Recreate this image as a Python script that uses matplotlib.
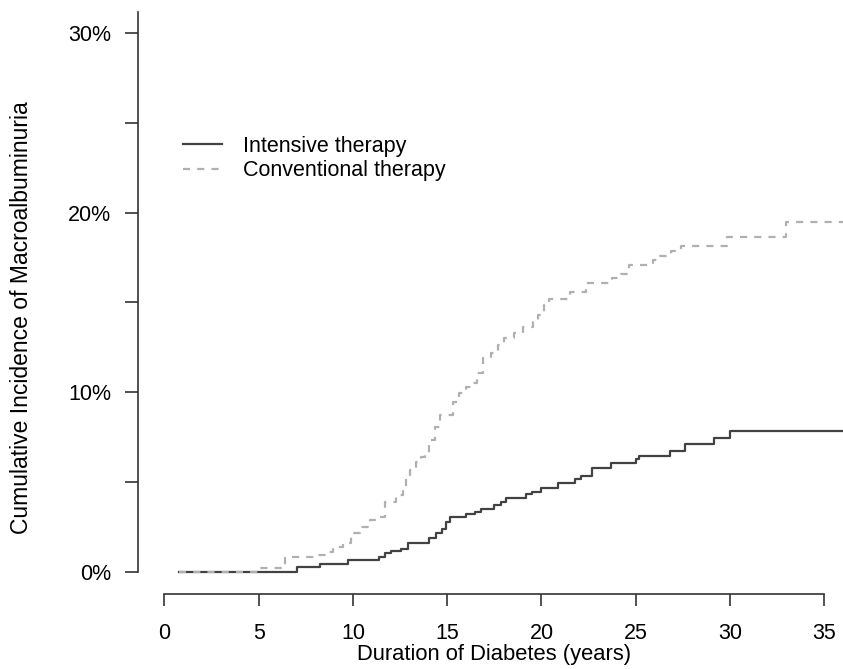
import matplotlib
matplotlib.use("Agg")
import matplotlib.pyplot as plt

plt.rcParams['font.family'] = ['Liberation Sans', 'DejaVu Sans']

# step curves: time (years) where a new level starts, level in %
intensive_t = [0.75, 7.05, 8.24, 9.72, 11.4, 11.7, 12.0, 12.56, 12.9, 14.06, 14.4, 14.7,
               14.95, 15.16, 16.0, 16.5, 16.8, 17.5, 17.86, 18.1, 19.2, 19.5, 19.98,
               20.86, 21.8, 22.1, 22.7, 23.7, 25.0, 25.2, 26.8, 27.6, 29.16, 30.0, 36.5]
intensive_y = [0.0, 0.23, 0.42, 0.62, 0.82, 1.01, 1.14, 1.27, 1.6, 1.85, 2.13, 2.35,
               2.77, 3.05, 3.2, 3.33, 3.48, 3.7, 3.89, 4.08, 4.32, 4.45, 4.64,
               4.91, 5.14, 5.3, 5.78, 6.03, 6.25, 6.43, 6.73, 7.09, 7.42, 7.84, 7.84]

conventional_t = [0.75, 5.06, 6.38, 8.06, 8.59, 8.94, 9.47, 9.91, 10.35, 10.88, 11.3,
                  11.68, 12.3, 12.65, 12.83, 13.0, 13.36, 13.6, 13.8, 14.06, 14.33,
                  14.6, 15.3, 15.65, 16.0, 16.36, 16.6, 16.89, 17.33, 17.68, 18.03,
                  18.56, 19.0, 19.53, 19.8, 20.15, 20.4, 21.5, 22.36, 23.76, 24.2,
                  24.65, 25.9, 26.3, 26.86, 27.4, 29.86, 33.0, 36.5]
conventional_y = [0.0, 0.21, 0.82, 0.92, 1.1, 1.35, 1.57, 2.13, 2.46, 2.87, 3.02,
                  3.89, 4.26, 4.63, 5.28, 5.65, 6.1, 6.4, 6.6, 7.33, 8.07,
                  8.72, 9.46, 9.93, 10.3, 10.49, 11.04, 11.88, 12.16, 12.6, 13.0,
                  13.27, 13.6, 13.9, 14.3, 14.85, 15.2, 15.59, 16.05, 16.35, 16.6,
                  17.07, 17.35, 17.6, 17.87, 18.15, 18.62, 19.49, 19.49]

x_ticks = [0, 5, 10, 15, 20, 25, 30, 35]
y_ticks = [0, 5, 10, 15, 20, 25, 30]
y_labels = ['0%', '', '10%', '', '20%', '', '30%']

W, H = 843, 669
fig = plt.figure(figsize=(W / 100, H / 100), dpi=100)
ax = fig.add_axes([138 / W, 1 - 594 / H, (W - 138) / W, (594 - 12) / H])

ax.step(intensive_t, intensive_y, where='post', color='#424242', lw=1.6,
        label='Intensive therapy')
ax.step(conventional_t, conventional_y, where='post', color='#b0b0b0', lw=1.6,
        dashes=(3.2, 3.2), label='Conventional therapy')

ax.set_xlim(-1.406, 36.0)
ax.set_ylim(-1.253, 31.17)

for s in ['top', 'right']:
    ax.spines[s].set_visible(False)
for s in ['left', 'bottom']:
    ax.spines[s].set_color('#333333')
    ax.spines[s].set_linewidth(1.2)
ax.spines['left'].set_bounds(0, 31.17)
ax.spines['bottom'].set_bounds(0, 35)

ax.set_xticks(x_ticks)
ax.set_xticklabels([str(v) for v in x_ticks])
ax.set_yticks(y_ticks)
ax.set_yticklabels(y_labels)
ax.tick_params(axis='y', length=9.4, width=1.2, color='#333333', pad=10, labelsize=15.5)
ax.tick_params(axis='x', length=8.6, width=1.2, color='#333333', pad=12, labelsize=15.5)

ax.set_xlabel('Duration of Diabetes (years)', fontsize=15.8)
ax.xaxis.set_label_coords((494 - 138) / (W - 138), (594 - 660) / (594 - 12), transform=ax.transAxes)
ax.xaxis.label.set_va('baseline')

fig.text(22 / W, 1 - 318 / H, 'Cumulative Incidence of Macroalbuminuria',
         rotation=90, ha='center', va='center', fontsize=16.5)

ax.legend(loc='upper left', bbox_to_anchor=(183 / W, 1 - 136 / H),
          bbox_transform=fig.transFigure, frameon=False, fontsize=15.5,
          handlelength=1.81, handletextpad=1.0, labelspacing=0.15,
          borderpad=0, borderaxespad=0)

fig.savefig('out.png', dpi=100)
